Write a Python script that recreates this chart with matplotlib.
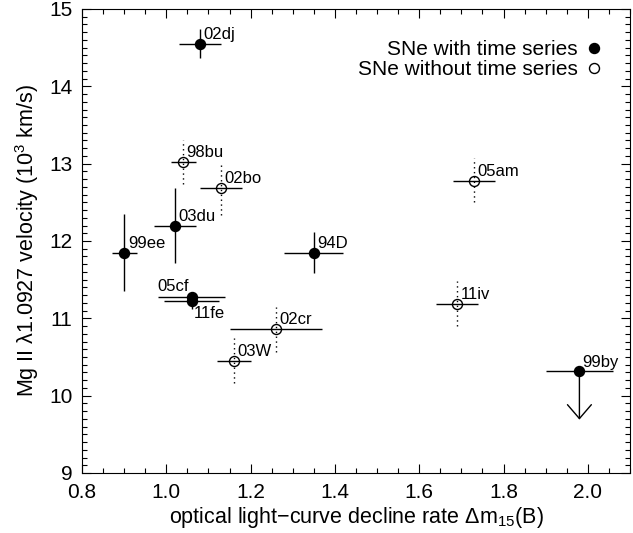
import numpy as np
import matplotlib
matplotlib.use('Agg')
import matplotlib.pyplot as plt
import matplotlib.ticker as ticker
from matplotlib.lines import Line2D

plt.rcParams['font.family'] = ['Liberation Sans', 'DejaVu Sans']
plt.rcParams['mathtext.fontset'] = 'custom'
plt.rcParams['mathtext.rm'] = 'Liberation Sans'
plt.rcParams['mathtext.it'] = 'Liberation Sans:italic'

# SN data: decline rate vs Mg II velocity
names = ['02dj', '98bu', '02bo', '03du', '99ee', '94D', '05cf', '11fe',
         '02cr', '03W', '05am', '11iv', '99by']
dm15 = [1.08, 1.04, 1.13, 1.02, 0.90, 1.35, 1.06, 1.06, 1.26, 1.16, 1.73, 1.69, 1.98]
vel = [14.55, 13.02, 12.68, 12.20, 11.85, 11.85, 11.27, 11.23, 10.86, 10.45, 12.78, 11.19, 10.32]
dm15_err = [0.05, 0.03, 0.05, 0.05, 0.03, 0.07, 0.08, 0.066, 0.11, 0.04, 0.05, 0.05, 0.08]
vel_err_lo = [0.19, 0.28, 0.35, 0.48, 0.50, 0.27, 0.03, 0.11, 0.29, 0.29, 0.27, 0.29, 0.0]
vel_err_hi = [0.19, 0.28, 0.30, 0.48, 0.50, 0.27, 0.06, 0.02, 0.29, 0.29, 0.29, 0.29, 0.0]
time_series = [True, False, False, True, True, True, True, True, False, False, False, False, True]
upper_limit = ['99by']
limit_arrow = 0.63

# label offsets in points (dx, dy, ha, va)
lab_pos = {n: (2.3, 3.6, 'left', 'baseline') for n in names}
lab_pos['05cf'] = (-2.0, 4.7, 'right', 'baseline')
lab_pos['11fe'] = (1.7, -12.5, 'left', 'baseline')
lab_pos['99ee'] = (2.8, 3.0, 'left', 'baseline')
lab_pos['99by'] = (2.3, 3.0, 'left', 'baseline')

fig = plt.figure(figsize=(6.33, 5.33), dpi=100)
ax = fig.add_axes([82/633, 1-473/533, (630-82)/633, (473-9)/533])

ms = 7.2
for i, n in enumerate(names):
    x, y = dm15[i], vel[i]
    yerr = [[vel_err_lo[i]], [vel_err_hi[i]]]
    if time_series[i]:
        ax.errorbar([x], [y], xerr=[dm15_err[i]], yerr=yerr, fmt='o', color='k',
                    ms=ms, elinewidth=1.0, capsize=0)
    else:
        ax.errorbar([x], [y], xerr=[dm15_err[i]], fmt='none', ecolor='k',
                    elinewidth=1.0, capsize=0)
        eb = ax.errorbar([x], [y], yerr=yerr, fmt='none', ecolor='k',
                         elinewidth=1.0, capsize=0)
        eb[2][0].set_linestyle((0, (1, 2.5)))
        ax.plot([x], [y], 'o', mfc='none', mec='k', mew=1.0, ms=ms)
    if n in upper_limit:
        ax.annotate('', xy=(x, y - limit_arrow), xytext=(x, y),
                    arrowprops=dict(arrowstyle='->,head_length=1.0,head_width=0.86',
                                    color='k', lw=1.0, shrinkA=0, shrinkB=0))
    dx, dy, ha, va = lab_pos[n]
    ax.annotate(n, (x, y), xytext=(dx, dy), textcoords='offset points',
                ha=ha, va=va, fontsize=12)

ax.set_xlim(0.8, 2.1)
ax.set_ylim(9, 15)
ax.xaxis.set_major_locator(ticker.MultipleLocator(0.2))
ax.xaxis.set_minor_locator(ticker.MultipleLocator(0.05))
ax.yaxis.set_major_locator(ticker.MultipleLocator(1))
ax.yaxis.set_minor_locator(ticker.MultipleLocator(0.1))
ax.xaxis.set_major_formatter(ticker.FormatStrFormatter('%.1f'))
ax.tick_params(which='both', direction='in', top=True, right=True, labelsize=15, width=0.8)
ax.tick_params(which='major', length=6.5, pad=7)
ax.tick_params(which='minor', length=3.6)

ax.set_xlabel('optical light\u2212curve decline rate \u0394m$_{15}$(B)', fontsize=15.5, labelpad=2)
ax.set_ylabel('Mg II \u03bb1.0927 velocity (10$^3$ km/s)', fontsize=15.5, labelpad=6)

handles = [Line2D([], [], ls='none', marker='o', color='k', ms=ms),
           Line2D([], [], ls='none', marker='o', mfc='none', mec='k', mew=1.0, ms=ms)]
ax.legend(handles, ['SNe with time series', 'SNe without time series'],
          loc='upper right', bbox_to_anchor=(0.9476, 0.933), markerfirst=False,
          frameon=False, fontsize=15, handlelength=0.7, handletextpad=0.43,
          borderpad=0, borderaxespad=0, labelspacing=0.05)

plt.savefig('out.png', dpi=100)
